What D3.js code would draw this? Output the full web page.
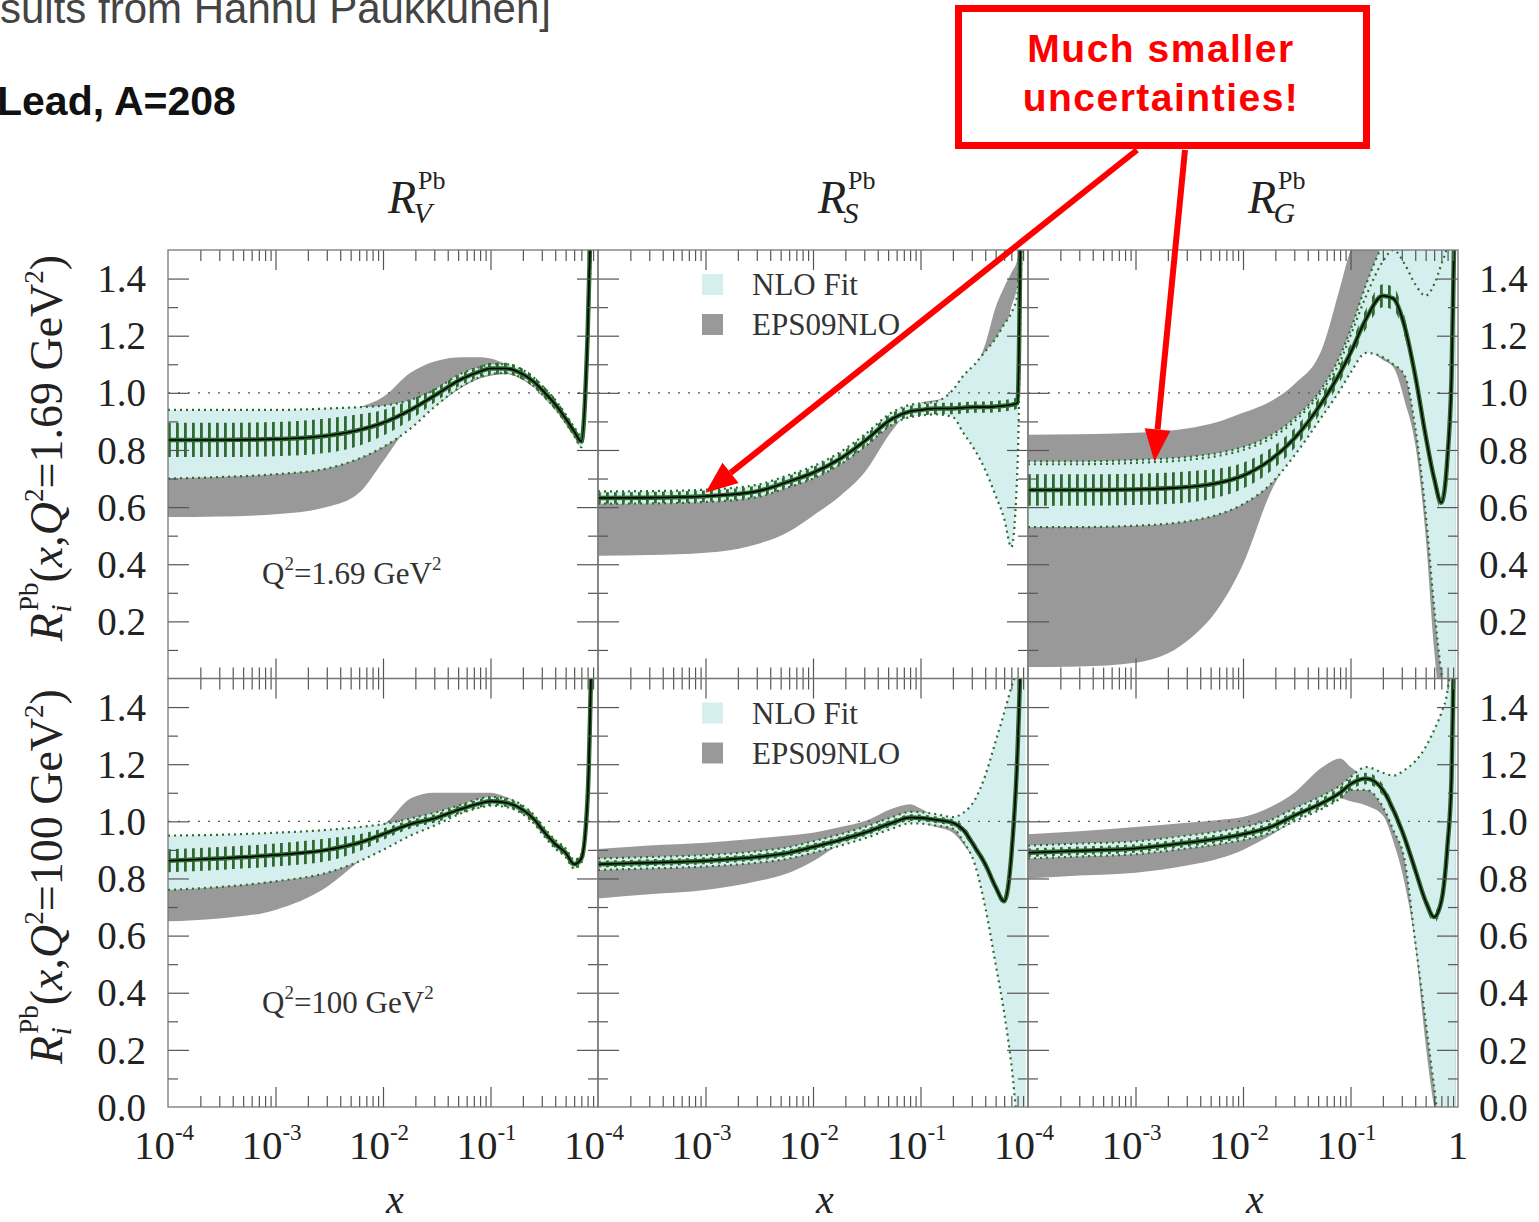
<!DOCTYPE html>
<html>
<head>
<meta charset="utf-8">
<script src="https://cdnjs.cloudflare.com/ajax/libs/d3/7.8.5/d3.min.js"></script>
<style>
body { margin: 0; background: #fff; }
text { font-family: "Liberation Serif", "DejaVu Serif", serif; }
.sans { font-family: "Liberation Sans", Arial, sans-serif; }
</style>
</head>
<body>
<script>
var xNodes = [1e-4, 3e-4, 1e-3, 3e-3, 6e-3, 0.01, 0.018, 0.03, 0.055, 0.08, 0.1, 0.14, 0.2, 0.25, 0.32, 0.4, 0.5, 0.6, 0.7, 0.8, 0.87, 0.95];

// R_V, Q^2 = 1.69 GeV^2
var v169Mid = [0.835, 0.835, 0.838, 0.85, 0.87, 0.895, 0.94, 0.99, 1.05, 1.075, 1.085, 1.085, 1.065, 1.04, 1.0, 0.96, 0.91, 0.865, 0.83, 1.2, 1.7, 2.5];
var v169Err = [0.06, 0.06, 0.06, 0.06, 0.055, 0.045, 0.035, 0.025, 0.02, 0.02, 0.02, 0.02, 0.02, 0.02, 0.02, 0.02, 0.018, 0.018, 0.018, 0.02, 0.03, 0.05];
var v169NloHi = [0.94, 0.94, 0.94, 0.945, 0.95, 0.955, 0.975, 1.01, 1.07, 1.09, 1.1, 1.1, 1.08, 1.055, 1.015, 0.975, 0.925, 0.88, 0.85, 1.25, 1.75, 2.6];
var v169NloLo = [0.70, 0.705, 0.715, 0.735, 0.77, 0.81, 0.875, 0.95, 1.025, 1.055, 1.065, 1.07, 1.05, 1.025, 0.985, 0.945, 0.895, 0.85, 0.81, 1.15, 1.6, 2.4];
var v169EpsHi = [0.92, 0.92, 0.925, 0.935, 0.95, 0.985, 1.07, 1.11, 1.125, 1.125, 1.12, 1.1, 1.075, 1.05, 1.01, 0.97, 0.92, 0.875, 0.84, 1.2, 1.7, 2.5];
var v169EpsLo = [0.565, 0.567, 0.575, 0.6, 0.65, 0.76, 0.89, 0.95, 1.02, 1.05, 1.06, 1.065, 1.045, 1.02, 0.98, 0.94, 0.89, 0.845, 0.81, 1.15, 1.6, 2.4];

// R_S, Q^2 = 1.69 GeV^2
var s169Mid = [0.632, 0.633, 0.638, 0.655, 0.69, 0.72, 0.77, 0.83, 0.91, 0.935, 0.94, 0.945, 0.945, 0.948, 0.95, 0.95, 0.952, 0.955, 0.958, 0.965, 1.8, 2.6];
var s169Err = [0.02, 0.02, 0.02, 0.02, 0.02, 0.02, 0.02, 0.02, 0.02, 0.02, 0.02, 0.02, 0.02, 0.02, 0.02, 0.02, 0.02, 0.02, 0.02, 0.02, 0.03, 0.04];
var s169NloHi = [0.655, 0.656, 0.661, 0.678, 0.713, 0.743, 0.793, 0.853, 0.933, 0.958, 0.963, 0.97, 1.01, 1.06, 1.1, 1.145, 1.19, 1.24, 1.28, 1.35, 1.9, 2.6];
var s169NloLo = [0.612, 0.613, 0.618, 0.635, 0.67, 0.70, 0.75, 0.81, 0.89, 0.915, 0.92, 0.925, 0.915, 0.86, 0.8, 0.73, 0.64, 0.56, 0.46, 0.75, 1.5, 2.4];
var s169EpsHi = [0.625, 0.626, 0.631, 0.648, 0.683, 0.713, 0.763, 0.823, 0.905, 0.94, 0.965, 0.975, 0.985, 1.0, 1.08, 1.17, 1.3, 1.37, 1.42, 1.47, 1.6, 2.5];
var s169EpsLo = [0.43, 0.432, 0.44, 0.47, 0.515, 0.57, 0.64, 0.72, 0.87, 0.935, 0.94, 0.945, 0.95, 0.97, 0.99, 1.03, 1.1, 1.2, 1.3, 1.38, 1.5, 2.4];

// R_G, Q^2 = 1.69 GeV^2
var g169Mid = [0.66, 0.66, 0.662, 0.67, 0.685, 0.71, 0.765, 0.84, 0.97, 1.07, 1.14, 1.26, 1.34, 1.33, 1.23, 1.06, 0.85, 0.7, 0.615, 0.78, 1.05, 1.8];
var g169Err = [0.055, 0.055, 0.055, 0.055, 0.05, 0.045, 0.04, 0.035, 0.03, 0.03, 0.03, 0.035, 0.04, 0.04, 0.035, 0.03, 0.03, 0.03, 0.03, 0.03, 0.04, 0.05];
var g169NloHi = [0.76, 0.76, 0.765, 0.775, 0.79, 0.81, 0.85, 0.91, 1.02, 1.13, 1.22, 1.38, 1.52, 1.58, 1.6, 1.6, 1.6, 1.6, 1.6, 1.6, 1.7, 2.0];
var g169NloLo = [0.53, 0.53, 0.535, 0.55, 0.575, 0.61, 0.68, 0.78, 0.92, 1.01, 1.07, 1.14, 1.125, 1.1, 1.06, 0.88, 0.58, 0.25, 0.02, -0.1, -0.1, -0.1];
var g169EpsHi = [0.853, 0.855, 0.86, 0.875, 0.9, 0.93, 0.97, 1.03, 1.16, 1.37, 1.5, 1.6, 1.6, 1.5, 1.4, 1.3, 1.25, 1.3, 1.4, 1.5, 1.6, 1.8];
var g169EpsLo = [0.04, 0.042, 0.055, 0.13, 0.25, 0.4, 0.65, 0.8, 0.95, 1.03, 1.1, 1.15, 1.115, 1.09, 0.97, 0.82, 0.5, 0.1, -0.1, -0.1, -0.1, -0.1];
// inner dotted member near the top right of R_G
var g169Inner = [0.75, 0.75, 0.755, 0.765, 0.78, 0.8, 0.84, 0.9, 1.01, 1.11, 1.2, 1.34, 1.46, 1.5, 1.45, 1.38, 1.34, 1.38, 1.45, 1.52, 1.6, 1.9];

// R_V, Q^2 = 100 GeV^2
var v100Mid = [0.862, 0.87, 0.882, 0.9, 0.925, 0.955, 0.99, 1.01, 1.045, 1.063, 1.07, 1.065, 1.04, 1.01, 0.96, 0.92, 0.89, 0.85, 0.87, 1.08, 1.6, 2.5];
var v100Err = [0.04, 0.04, 0.04, 0.04, 0.03, 0.02, 0.015, 0.015, 0.015, 0.015, 0.015, 0.015, 0.015, 0.015, 0.015, 0.015, 0.015, 0.015, 0.015, 0.02, 0.03, 0.05];
var v100NloHi = [0.95, 0.953, 0.96, 0.97, 0.98, 0.99, 1.01, 1.03, 1.06, 1.08, 1.085, 1.08, 1.055, 1.025, 0.975, 0.935, 0.905, 0.865, 0.885, 1.1, 1.65, 2.6];
var v100NloLo = [0.76, 0.77, 0.79, 0.82, 0.86, 0.9, 0.95, 0.985, 1.03, 1.048, 1.055, 1.05, 1.025, 0.995, 0.945, 0.905, 0.875, 0.835, 0.855, 1.06, 1.55, 2.4];
var v100EpsHi = [0.93, 0.935, 0.945, 0.96, 0.975, 0.99, 1.08, 1.1, 1.1, 1.1, 1.1, 1.085, 1.055, 1.025, 0.975, 0.935, 0.905, 0.865, 0.885, 1.1, 1.65, 2.6];
var v100EpsLo = [0.65, 0.66, 0.69, 0.77, 0.86, 0.92, 0.96, 0.99, 1.03, 1.048, 1.055, 1.05, 1.025, 0.995, 0.945, 0.905, 0.875, 0.835, 0.855, 1.06, 1.55, 2.4];

// R_S, Q^2 = 100 GeV^2
var s100Mid = [0.85, 0.855, 0.862, 0.875, 0.89, 0.91, 0.935, 0.96, 0.995, 1.013, 1.012, 1.005, 0.995, 0.97, 0.91, 0.85, 0.77, 0.72, 0.88, 1.25, 1.7, 2.5];
var s100Err = [0.012, 0.012, 0.012, 0.012, 0.012, 0.012, 0.012, 0.012, 0.012, 0.012, 0.012, 0.012, 0.012, 0.015, 0.015, 0.015, 0.015, 0.015, 0.015, 0.02, 0.03, 0.04];
var s100NloHi = [0.87, 0.875, 0.882, 0.895, 0.91, 0.93, 0.955, 0.98, 1.015, 1.033, 1.032, 1.025, 1.015, 1.03, 1.075, 1.16, 1.28, 1.38, 1.47, 1.55, 1.8, 2.6];
var s100NloLo = [0.83, 0.835, 0.842, 0.855, 0.87, 0.89, 0.915, 0.94, 0.975, 0.993, 0.992, 0.985, 0.975, 0.93, 0.85, 0.7, 0.5, 0.33, 0.15, -0.05, -0.1, -0.1];
var s100EpsHi = [0.903, 0.915, 0.925, 0.94, 0.95, 0.96, 0.98, 1.0, 1.045, 1.06, 1.045, 1.015, 1.0, 0.975, 0.915, 0.855, 0.775, 0.725, 0.88, 1.25, 1.7, 2.5];
var s100EpsLo = [0.73, 0.745, 0.76, 0.79, 0.82, 0.86, 0.92, 0.95, 0.985, 1.0, 0.995, 0.98, 0.96, 0.92, 0.86, 0.77, 0.68, 0.64, 0.8, 1.15, 1.6, 2.4];

// R_G, Q^2 = 100 GeV^2
var g100Mid = [0.89, 0.897, 0.905, 0.925, 0.94, 0.955, 0.98, 1.02, 1.065, 1.1, 1.13, 1.15, 1.11, 1.04, 0.94, 0.83, 0.72, 0.665, 0.72, 0.92, 1.15, 1.9];
var g100Err = [0.015, 0.015, 0.015, 0.015, 0.015, 0.015, 0.015, 0.015, 0.018, 0.02, 0.02, 0.02, 0.02, 0.02, 0.02, 0.02, 0.02, 0.02, 0.02, 0.02, 0.03, 0.04];
var g100NloHi = [0.915, 0.922, 0.93, 0.95, 0.965, 0.98, 1.005, 1.045, 1.09, 1.125, 1.155, 1.19, 1.17, 1.16, 1.18, 1.21, 1.26, 1.32, 1.38, 1.46, 1.6, 2.0];
var g100NloLo = [0.87, 0.877, 0.885, 0.905, 0.92, 0.935, 0.96, 1.0, 1.045, 1.08, 1.11, 1.11, 1.05, 0.97, 0.86, 0.58, 0.3, 0.07, -0.1, -0.1, -0.1, -0.1];
var g100EpsHi = [0.955, 0.965, 0.98, 0.995, 1.005, 1.015, 1.05, 1.1, 1.19, 1.22, 1.19, 1.15, 1.11, 1.04, 0.94, 0.83, 0.72, 0.665, 0.72, 0.92, 1.15, 1.9];
var g100EpsLo = [0.80, 0.81, 0.82, 0.845, 0.87, 0.9, 0.95, 1.0, 1.05, 1.08, 1.07, 1.055, 1.02, 0.93, 0.78, 0.57, 0.22, 0.0, -0.1, -0.1, -0.1, -0.1];

// labels
var colTitles = ["V", "S", "G"];
var rowQ2 = ["1.69", "100"];
var xTickLabels = [{ v: 1e-4, e: "-4" }, { v: 1e-3, e: "-3" }, { v: 1e-2, e: "-2" }, { v: 1e-1, e: "-1" }];
var yTicksTop = [0.2, 0.4, 0.6, 0.8, 1.0, 1.2, 1.4];
var yTicksBottom = [0.0, 0.2, 0.4, 0.6, 0.8, 1.0, 1.2, 1.4];
var legendNames = ["NLO Fit", "EPS09NLO"];

var panels = [
    { row: 0, col: 0, mid: v169Mid, err: v169Err, nloLo: v169NloLo, nloHi: v169NloHi, epsLo: v169EpsLo, epsHi: v169EpsHi },
    { row: 0, col: 1, mid: s169Mid, err: s169Err, nloLo: s169NloLo, nloHi: s169NloHi, epsLo: s169EpsLo, epsHi: s169EpsHi },
    { row: 0, col: 2, mid: g169Mid, err: g169Err, nloLo: g169NloLo, nloHi: g169NloHi, epsLo: g169EpsLo, epsHi: g169EpsHi, inner: g169Inner },
    { row: 1, col: 0, mid: v100Mid, err: v100Err, nloLo: v100NloLo, nloHi: v100NloHi, epsLo: v100EpsLo, epsHi: v100EpsHi },
    { row: 1, col: 1, mid: s100Mid, err: s100Err, nloLo: s100NloLo, nloHi: s100NloHi, epsLo: s100EpsLo, epsHi: s100EpsHi },
    { row: 1, col: 2, mid: g100Mid, err: g100Err, nloLo: g100NloLo, nloHi: g100NloHi, epsLo: g100EpsLo, epsHi: g100EpsHi }
];

var left0 = 168, top0 = 250, pw = 430, ph = 428.5;
var green = "#2f6b2f", cyan = "#d5eeee", grey = "#999999";

var svg = d3.select("body").append("svg")
    .attr("width", 1539)
    .attr("height", 1222);

var defs = svg.append("defs");
defs.append("pattern")
    .attr("id", "hatch")
    .attr("patternUnits", "userSpaceOnUse")
    .attr("width", 8)
    .attr("height", 10)
    .append("rect")
    .attr("width", 2.8)
    .attr("height", 10)
    .attr("fill", green);

var x = d3.scaleLog().domain([1e-4, 1]).range([0, pw]);
var y = d3.scaleLinear().domain([0, 1.5]).range([ph, 0]);

var majorX = [1e-3, 1e-2, 1e-1];
var minorX = [];
[-4, -3, -2, -1].forEach(function (k) {
    for (var m = 2; m <= 9; m++) minorX.push(m * Math.pow(10, k));
});
var majorY = [0.2, 0.4, 0.6, 0.8, 1.0, 1.2, 1.4];
var minorY = [0.1, 0.3, 0.5, 0.7, 0.9, 1.1, 1.3];

function band(lo, hi) {
    return d3.area()
        .x(function (d, i) { return x(xNodes[i]); })
        .y0(function (d, i) { return y(lo[i]); })
        .y1(function (d, i) { return y(hi[i]); })
        .curve(d3.curveMonotoneX);
}
var line = d3.line()
    .x(function (d, i) { return x(xNodes[i]); })
    .y(function (d) { return y(d); })
    .curve(d3.curveMonotoneX);

function tickAxis(g, axis, values, size) {
    g.call(axis.tickValues(values).tickSize(size).tickFormat(""))
        .call(function (s) { s.select(".domain").remove(); })
        .selectAll("line").attr("stroke", "#555").attr("stroke-width", 1.2);
}

function dotted(sel, data) {
    sel.append("path").datum(data)
        .attr("d", line)
        .attr("fill", "none")
        .attr("stroke", green)
        .attr("stroke-width", 2.2)
        .attr("stroke-dasharray", "2,4");
}

panels.forEach(function (p, i) {
    var g = svg.append("g")
        .attr("transform", "translate(" + (left0 + p.col * pw) + "," + (top0 + p.row * ph) + ")");

    defs.append("clipPath").attr("id", "clip" + i)
        .append("rect").attr("width", pw).attr("height", ph);

    var plot = g.append("g").attr("clip-path", "url(#clip" + i + ")");

    plot.append("path").datum(xNodes)
        .attr("d", band(p.epsLo, p.epsHi))
        .attr("fill", grey);
    plot.append("path").datum(xNodes)
        .attr("d", band(p.nloLo, p.nloHi))
        .attr("fill", cyan);

    // 1.0 reference line
    plot.append("line")
        .attr("x1", 0).attr("x2", pw)
        .attr("y1", y(1)).attr("y2", y(1))
        .attr("stroke", "#555").attr("stroke-width", 1.2)
        .attr("stroke-dasharray", "2,8");

    dotted(plot, p.nloLo);
    dotted(plot, p.nloHi);
    if (p.inner) dotted(plot, p.inner);

    var errLo = p.mid.map(function (d, j) { return d - p.err[j]; });
    var errHi = p.mid.map(function (d, j) { return d + p.err[j]; });
    plot.append("path").datum(xNodes)
        .attr("d", band(errLo, errHi))
        .attr("fill", "url(#hatch)");

    plot.append("path").datum(p.mid)
        .attr("d", line)
        .attr("fill", "none")
        .attr("stroke", green)
        .attr("stroke-width", 4.5);
    plot.append("path").datum(p.mid)
        .attr("d", line)
        .attr("fill", "none")
        .attr("stroke", "#000")
        .attr("stroke-width", 1.6);

    // frame and inward ticks
    tickAxis(g.append("g").attr("transform", "translate(0," + ph + ")"), d3.axisTop(x), majorX, 20);
    tickAxis(g.append("g").attr("transform", "translate(0," + ph + ")"), d3.axisTop(x), minorX, 11);
    tickAxis(g.append("g"), d3.axisBottom(x), majorX, 20);
    tickAxis(g.append("g"), d3.axisBottom(x), minorX, 11);
    tickAxis(g.append("g"), d3.axisRight(y), majorY, 21);
    tickAxis(g.append("g"), d3.axisRight(y), minorY, 10);
    tickAxis(g.append("g").attr("transform", "translate(" + pw + ",0)"), d3.axisLeft(y), majorY, 21);
    tickAxis(g.append("g").attr("transform", "translate(" + pw + ",0)"), d3.axisLeft(y), minorY, 10);

    g.append("rect")
        .attr("width", pw).attr("height", ph)
        .attr("fill", "none")
        .attr("stroke", "#777")
        .attr("stroke-width", 1.3);

    // column title on top row
    if (p.row === 0) {
        var t = g.append("text")
            .attr("x", 220).attr("y", -37)
            .style("font-size", "46px").attr("fill", "#222");
        t.append("tspan").style("font-style", "italic").text("R");
        t.append("tspan").attr("dx", 2).attr("dy", -24).style("font-size", "26px").text("Pb");
        t.append("tspan").attr("dx", -32).attr("dy", 34).style("font-size", "30px").style("font-style", "italic").text(colTitles[p.col]);
    }

    // Q^2 label in the first column
    if (p.col === 0) {
        var q = g.append("text")
            .attr("x", 94).attr("y", y(0.33))
            .style("font-size", "31px").attr("fill", "#333");
        q.append("tspan").text("Q");
        q.append("tspan").attr("dy", -14).style("font-size", "19px").text("2");
        q.append("tspan").attr("dy", 14).text("=" + rowQ2[p.row] + " GeV");
        q.append("tspan").attr("dy", -14).style("font-size", "19px").text("2");
    }

    // legend in the middle column
    if (p.col === 1) {
        legendNames.forEach(function (name, k) {
            g.append("rect")
                .attr("x", 104).attr("y", 24 + k * 40)
                .attr("width", 21).attr("height", 21)
                .attr("fill", k === 0 ? cyan : grey);
            g.append("text")
                .attr("x", 154).attr("y", 45 + k * 40)
                .style("font-size", "31px").attr("fill", "#333")
                .text(name);
        });
    }

    // x tick labels and x title on bottom row
    if (p.row === 1) {
        xTickLabels.forEach(function (d) {
            var tx = g.append("text")
                .attr("x", x(d.v) - 4).attr("y", ph + 52)
                .attr("text-anchor", "middle")
                .style("font-size", "41px").attr("fill", "#222");
            tx.append("tspan").text("10");
            tx.append("tspan").attr("dy", -19).style("font-size", "23px").text(d.e);
        });
        if (p.col === 2) {
            g.append("text")
                .attr("x", x(1)).attr("y", ph + 52)
                .attr("text-anchor", "middle")
                .style("font-size", "41px").attr("fill", "#222")
                .text("1");
        }
        g.append("text")
            .attr("x", 227).attr("y", ph + 106)
            .attr("text-anchor", "middle")
            .style("font-size", "40px").style("font-style", "italic").attr("fill", "#222")
            .text("x");
    }
});

// y tick labels on both outer sides
[0, 1].forEach(function (row) {
    var vals = row === 0 ? yTicksTop : yTicksBottom;
    var gy = svg.append("g").attr("transform", "translate(0," + (top0 + row * ph) + ")");
    vals.forEach(function (v) {
        gy.append("text")
            .attr("x", left0 - 22).attr("y", y(v)).attr("dy", "0.35em")
            .attr("text-anchor", "end")
            .style("font-size", "39px").attr("fill", "#222")
            .text(v.toFixed(1));
        gy.append("text")
            .attr("x", left0 + 3 * pw + 21).attr("y", y(v)).attr("dy", "0.35em")
            .attr("text-anchor", "start")
            .style("font-size", "39px").attr("fill", "#222")
            .text(v.toFixed(1));
    });

    // rotated y title
    var yt = svg.append("text")
        .attr("transform", "translate(62," + (top0 + row * ph + 198) + ") rotate(-90)")
        .attr("text-anchor", "middle")
        .style("font-size", "46px").attr("fill", "#222");
    yt.append("tspan").style("font-style", "italic").text("R");
    yt.append("tspan").attr("dx", 2).attr("dy", -24).style("font-size", "27px").text("Pb");
    yt.append("tspan").attr("dx", -30).attr("dy", 33).style("font-size", "29px").style("font-style", "italic").text("i");
    yt.append("tspan").attr("dx", 22).attr("dy", -9).text("(");
    yt.append("tspan").style("font-style", "italic").text("x");
    yt.append("tspan").text(",");
    yt.append("tspan").style("font-style", "italic").text("Q");
    yt.append("tspan").attr("dy", -19).style("font-size", "27px").text("2");
    yt.append("tspan").attr("dy", 19).text("=" + rowQ2[row] + " GeV");
    yt.append("tspan").attr("dy", -19).style("font-size", "27px").text("2");
    yt.append("tspan").attr("dy", 19).text(")");
});

// header texts
svg.append("text").attr("class", "sans")
    .attr("x", 0).attr("y", 23)
    .style("font-size", "42px").attr("fill", "#444")
    .text("sults from Hannu Paukkunen]");
svg.append("text").attr("class", "sans")
    .attr("x", -3).attr("y", 115)
    .style("font-size", "41px").style("font-weight", "bold").attr("fill", "#111")
    .text("Lead, A=208");

// red callout
svg.append("rect")
    .attr("x", 958.5).attr("y", 8.5)
    .attr("width", 408).attr("height", 137)
    .attr("fill", "#fff")
    .attr("stroke", "#ff0000")
    .attr("stroke-width", 7);
["Much smaller", "uncertainties!"].forEach(function (s, k) {
    svg.append("text").attr("class", "sans")
        .attr("x", 1161).attr("y", 62 + k * 49)
        .attr("text-anchor", "middle")
        .style("font-size", "39px").style("letter-spacing", "1.5px")
        .style("font-weight", "bold")
        .attr("fill", "#ff0000")
        .text(s);
});

function arrow(x1, y1, x2, y2) {
    var a = Math.atan2(y2 - y1, x2 - x1), len = 32, half = 13;
    var bx = x2 - len * Math.cos(a), by = y2 - len * Math.sin(a);
    svg.append("line")
        .attr("x1", x1).attr("y1", y1).attr("x2", bx).attr("y2", by)
        .attr("stroke", "#ff0000").attr("stroke-width", 6);
    svg.append("polygon")
        .attr("points", [
            [x2, y2],
            [bx + half * Math.sin(a), by - half * Math.cos(a)],
            [bx - half * Math.sin(a), by + half * Math.cos(a)]
        ].map(function (q) { return q.join(","); }).join(" "))
        .attr("fill", "#ff0000");
}
// arrow tips point at the S and G curves of the top row
arrow(1137, 150, left0 + pw + x(1e-3), top0 + y(0.65));
arrow(1185, 150, left0 + 2 * pw + x(1.5e-3), top0 + y(0.76));
</script>
</body>
</html>
